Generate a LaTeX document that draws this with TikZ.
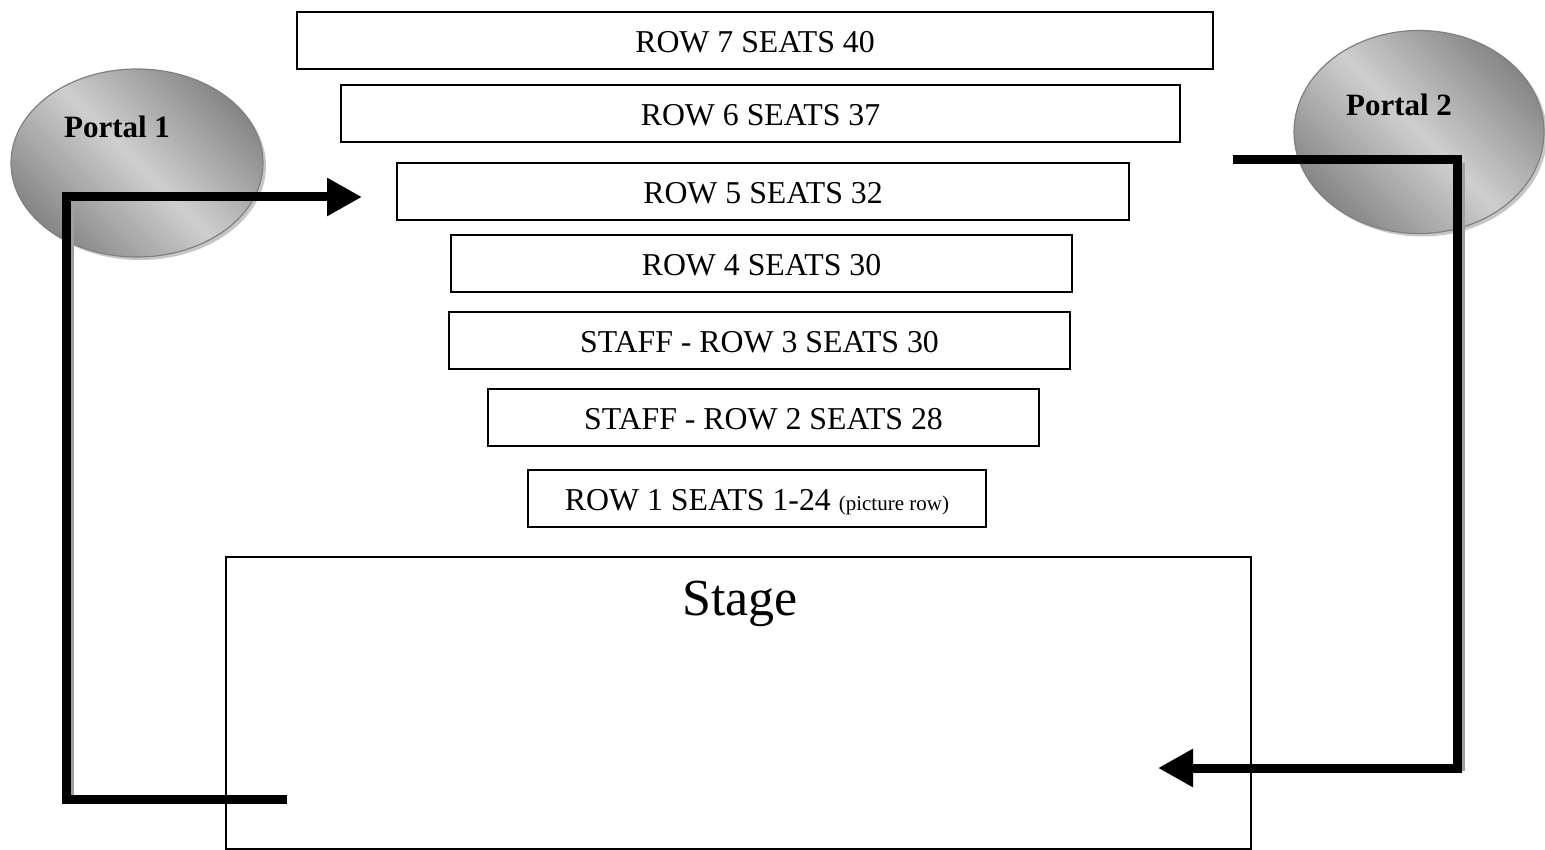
\documentclass[tikz,border=0pt]{standalone}
\usepackage{fontspec}
\setmainfont{Liberation Serif}
\usetikzlibrary{arrows.meta,shadows,shapes.geometric}
\begin{document}
\begin{tikzpicture}[x=1pt,y=-1pt,
  rowbox/.style={draw=black, line width=1.6pt, minimum height=57pt, inner sep=0pt, outer sep=0pt,
    text height=26pt, text depth=2pt,
    font=\fontsize{31.8}{38}\selectfont},
  stagebox/.style={draw=black, line width=1.8pt, inner sep=0pt, outer sep=0pt},
  portal/.style={ellipse, draw=gray, line width=1.2pt, inner sep=0pt,
    left color=gray!95, right color=gray!95, middle color=gray!38, shading angle=135,
    drop shadow={shadow xshift=3pt, shadow yshift=-3pt, fill=gray!45, opacity=1}},
  portaltext/.style={font=\fontsize{31}{36}\selectfont\bfseries, inner sep=0pt},
  route/.style={line width=9pt, line join=miter, black},
  routeshadow/.style={line width=9pt, line join=miter, gray!75, transform canvas={xshift=3pt,yshift=-3pt}},
  tip/.style={-{Triangle[length=35pt,width=36pt]}}
]
\fill[white] (0,0) rectangle (1545,850);
\useasboundingbox (0,0) rectangle (1545,850);

% stage
\node[stagebox, minimum width=1025pt, minimum height=292pt] (stage) at (738.5,703) {};
\node[font=\fontsize{52}{60}\selectfont, inner sep=0pt] (stagetxt) at (740,604) {Stage};

% rows
\node[rowbox, minimum width=916pt] (r7) at (755,40.5) {ROW 7 SEATS 40};
\node[rowbox, minimum width=839pt] (r6) at (760.5,113.5) {ROW 6 SEATS 37};
\node[rowbox, minimum width=732pt] (r5) at (763,191.5) {ROW 5 SEATS 32};
\node[rowbox, minimum width=621pt] (r4) at (761.5,263.5) {ROW 4 SEATS 30};
\node[rowbox, minimum width=621pt] (r3) at (759.5,340.5) {STAFF - ROW 3 SEATS 30};
\node[rowbox, minimum width=551pt] (r2) at (763.5,417.5) {STAFF - ROW 2 SEATS 28};
\node[rowbox, minimum width=458pt] (r1) at (757,498.5) {ROW 1 SEATS 1-24 {\fontsize{21}{24}\selectfont (picture row)}};

% portals
\node[portal, minimum width=252pt, minimum height=188pt] (p1) at (137,163) {};
\node[portaltext] (p1txt) at (117,127) {Portal 1};
\node[portal, minimum width=250pt, minimum height=203pt] (p2) at (1419,132) {};
\node[portaltext] (p2txt) at (1399,105) {Portal 2};

% routes
\coordinate (a1s) at (287,799);
\coordinate (a1c) at (66,799);
\coordinate (a1u) at (66,197);
\coordinate (a1e) at (362,197);
\coordinate (a2s) at (1233,160);
\coordinate (a2c) at (1457,160);
\coordinate (a2d) at (1457,768);
\coordinate (a2e) at (1158,768);

\draw[routeshadow] (a1c) -- (a1u);
\draw[routeshadow] (a2c) -- (a2d);
\draw[route] (a1s) -- (a1c) -- (a1u) -- ([xshift=-33pt]a1e);
\draw[route, tip] ([xshift=-40pt]a1e) -- (a1e);
\draw[route] (a2s) -- (a2c) -- (a2d) -- ([xshift=33pt]a2e);
\draw[route, tip] ([xshift=40pt]a2e) -- (a2e);
\end{tikzpicture}
\end{document}
